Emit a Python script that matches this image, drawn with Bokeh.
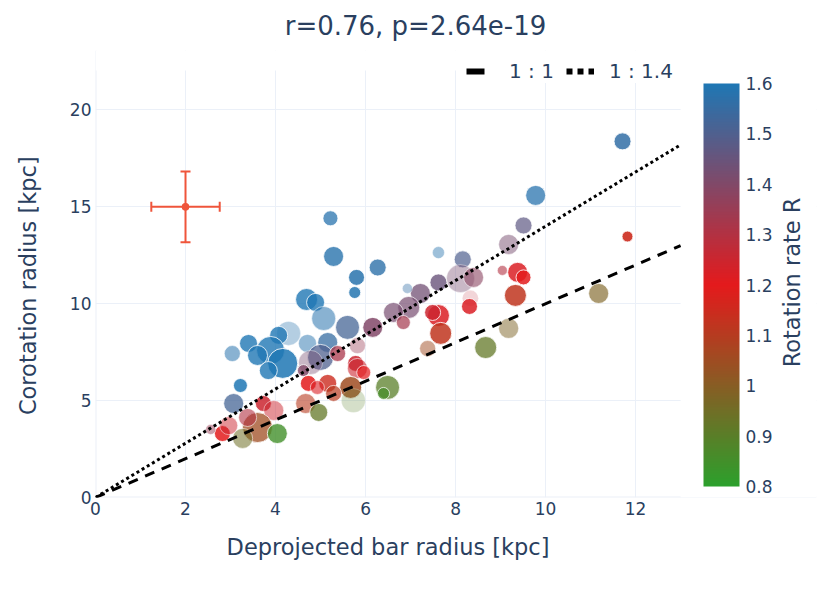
import math
from bokeh.plotting import figure
from bokeh.models import (ColumnDataSource, LinearColorMapper, ColorBar, FixedTicker, LinearAxis,
                          Span, Legend, LegendItem, Whisker, TeeHead, Range1d, BoxAnnotation, Label)
from bokeh.embed import file_html
from bokeh.resources import INLINE

# ---------------- data ----------------
bar_radius = [11.71, 9.78, 11.82, 9.51, 9.18, 5.22, 5.29, 6.27, 5.80, 5.76,
              7.62, 8.16, 8.11, 8.40, 9.04, 9.38, 9.51, 7.62, 7.22, 6.93,
              6.96, 6.62, 6.84, 8.33, 8.31, 9.33, 7.62, 7.49, 7.67, 7.38,
              9.18, 8.67, 11.18, 4.69, 4.89, 5.07, 5.60, 6.16, 4.29, 4.07,
              3.40, 3.04, 3.89, 4.16, 3.84, 3.60, 4.71, 5.16, 5.00, 4.78,
              5.38, 5.82, 5.78, 5.82, 5.96, 4.62, 4.73, 5.16, 4.93, 5.67,
              5.29, 5.73, 4.67, 4.96, 6.49, 6.40, 3.07, 3.22, 3.73, 3.96,
              3.60, 4.04, 3.27, 2.82, 2.96, 2.56, 3.38]
corot_radius = [18.38, 15.59, 13.47, 14.04, 13.06, 14.41, 12.44, 11.87, 11.36, 10.58,
                12.64, 12.29, 11.30, 11.36, 11.72, 11.62, 11.36, 11.10, 10.53, 10.79,
                9.81, 9.55, 9.03, 10.28, 9.86, 10.43, 9.39, 9.55, 8.47, 7.69,
                8.73, 7.74, 10.53, 10.22, 10.07, 9.24, 8.78, 8.78, 8.47, 8.37,
                7.95, 7.43, 7.59, 6.92, 6.55, 7.33, 7.95, 8.00, 7.23, 6.97,
                7.43, 7.84, 6.92, 6.66, 6.45, 6.55, 5.89, 5.89, 5.68, 5.68,
                5.37, 5.00, 4.85, 4.39, 5.68, 5.37, 4.85, 5.78, 4.85, 4.49,
                3.61, 3.30, 3.05, 3.30, 3.71, 3.51, 4.13]
rot_rate = [1.56, 1.58, 1.15, 1.47, 1.42, 1.58, 1.58, 1.57, 1.58, 1.59,
            1.58, 1.50, 1.42, 1.38, 1.30, 1.22, 1.20, 1.45, 1.43, 1.56,
            1.42, 1.42, 1.33, 1.28, 1.22, 1.12, 1.22, 1.25, 1.12, 1.05,
            0.98, 0.92, 0.98, 1.60, 1.60, 1.58, 1.52, 1.40, 1.58, 1.60,
            1.60, 1.58, 1.60, 1.60, 1.60, 1.60, 1.58, 1.55, 1.50, 1.42,
            1.32, 1.35, 1.25, 1.25, 1.20, 1.40, 1.20, 1.15, 1.22, 1.05,
            1.10, 0.90, 1.10, 0.92, 0.90, 0.86, 1.52, 1.60, 1.25, 1.25,
            1.05, 0.85, 0.95, 1.20, 1.25, 1.35, 1.30]
marker_size = [17, 20, 11, 17, 20, 15, 20, 17, 16, 12,
               12, 17, 28, 20, 10, 20, 15, 17, 20, 10,
               22, 20, 14, 16, 16, 22, 22, 16, 22, 16,
               20, 22, 20, 22, 18, 24, 24, 20, 24, 18,
               18, 16, 28, 30, 18, 20, 18, 20, 26, 24,
               16, 16, 16, 20, 14, 12, 16, 18, 14, 22,
               16, 24, 20, 18, 24, 12, 20, 14, 16, 20,
               30, 20, 20, 16, 18, 10, 18]
marker_opacity = [0.85, 0.75, 0.9, 0.7, 0.5, 0.75, 0.8, 0.8, 0.85, 0.85,
                  0.45, 0.7, 0.4, 0.6, 0.6, 0.85, 0.85, 0.8, 0.75, 0.4,
                  0.7, 0.7, 0.7, 0.2, 0.85, 0.85, 0.85, 0.85, 0.85, 0.5,
                  0.5, 0.75, 0.65, 0.8, 0.8, 0.55, 0.75, 0.85, 0.35, 0.8,
                  0.8, 0.55, 0.8, 0.85, 0.8, 0.8, 0.5, 0.75, 0.75, 0.4,
                  0.75, 0.4, 0.85, 0.6, 0.7, 0.8, 0.85, 0.8, 0.6, 0.85,
                  0.7, 0.25, 0.6, 0.75, 0.75, 0.75, 0.75, 0.85, 0.85, 0.5,
                  0.75, 0.8, 0.55, 0.85, 0.5, 0.5, 0.6]

ref_x = [0, 13]
ref_y_1to1 = [0, 13]
ref_y_1to14 = [0, 18.2]

err_x = [2.0]
err_y = [15.0]
err_dx = [0.76]
err_dy = [1.83]

x_ticks = [0, 2, 4, 6, 8, 10, 12]
y_ticks = [0, 5, 10, 15, 20]
cbar_ticks = [0.8, 0.9, 1.0, 1.1, 1.2, 1.3, 1.4, 1.5, 1.6]
cbar_labels = ["0.8", "0.9", "1", "1.1", "1.2", "1.3", "1.4", "1.5", "1.6"]

title_text = "r=0.76, p=2.64e-19"
x_title = "Deprojected bar radius [kpc]"
y_title = "Corotation radius [kpc]"
cbar_title = "Rotation rate R"
legend_labels = ["1 : 1", "1 : 1.4"]

# ---------------- layout / style constants ----------------
FONT = "DejaVu Sans"
TXT = "#2a3f5f"
GRID = "#EBF0F8"
ERRC = "#EF553B"
X_MAX = 13             # right edge of the visible plotting area
X_FRAME = 16.02        # frame continues right to hold the colour bar and its title
Y_MAX = 22.04          # top of the visible plotting area
Y_FRAME = 23.07        # frame extends a little higher so the legend is not clipped
TITLE_ANCHOR_X = 7.11  # horizontal centre of the title (x units)
XLABEL_ANCHOR_X = 6.5  # horizontal centre of the x-axis title (x units)
YLABEL_ANCHOR_Y = 10.93  # vertical centre of the y-axis title (y units)

green = (44, 160, 44)
red = (228, 26, 28)
blue = (31, 119, 180)


def mix(a, b, t):
    return tuple(int(round(a[i] + (b[i] - a[i]) * t)) for i in range(3))


palette = []
for i in range(256):
    t = i / 255
    c = mix(green, red, t / 0.5) if t <= 0.5 else mix(red, blue, (t - 0.5) / 0.5)
    palette.append("#%02x%02x%02x" % c)

mapper = LinearColorMapper(palette=palette, low=0.8, high=1.6)

p = figure(width=831, height=585, x_range=Range1d(0, X_FRAME), y_range=Range1d(0, Y_FRAME),
           title=None, output_backend="svg", toolbar_location=None,
           min_border_left=95, min_border_right=15, min_border_top=50, min_border_bottom=88,
           background_fill_color="white", border_fill_color="white", outline_line_color=None)
# off-screen range used only to carry the legend sample lines
p.extra_y_ranges = {"legend_only": Range1d(1000, 2000)}


def bare_axis(ax):
    ax.axis_line_color = None
    ax.major_tick_line_color = None
    ax.minor_tick_line_color = None
    ax.major_tick_out = 0
    ax.major_tick_in = 0
    ax.minor_tick_out = 0
    ax.minor_tick_in = 0
    ax.major_label_text_font = FONT
    ax.major_label_text_color = TXT
    return ax


main_x = bare_axis(p.xaxis[0])
main_y = bare_axis(p.yaxis[0])
main_x.ticker = FixedTicker(ticks=x_ticks)
main_y.ticker = FixedTicker(ticks=y_ticks)
main_x.major_label_text_font_size = "17px"
main_y.major_label_text_font_size = "17px"
main_x.major_label_standoff = 4
main_y.major_label_standoff = 4

p.xgrid.ticker = FixedTicker(ticks=x_ticks)
p.ygrid.ticker = FixedTicker(ticks=y_ticks)
p.xgrid.grid_line_color = GRID
p.ygrid.grid_line_color = GRID

p.add_layout(Span(location=0, dimension="height", line_color=GRID, line_width=2, level="underlay"))
p.add_layout(Span(location=0, dimension="width", line_color=GRID, line_width=2, level="underlay"))
# blank strips outside the visible plotting area (hide grid lines there)
p.add_layout(BoxAnnotation(bottom=Y_MAX, fill_color="white", fill_alpha=1.0,
                           line_alpha=0, level="underlay"))
p.add_layout(BoxAnnotation(left=X_MAX, fill_color="white", fill_alpha=1.0,
                           line_alpha=0, level="underlay"))

# axis titles and plot title, each a single label on a bare extra axis
x_title_axis = bare_axis(LinearAxis(ticker=FixedTicker(ticks=[XLABEL_ANCHOR_X]),
                                    major_label_overrides={XLABEL_ANCHOR_X: x_title}))
x_title_axis.major_label_text_font_size = "22.5px"
x_title_axis.major_label_standoff = 16
p.add_layout(x_title_axis, "below")

y_title_axis = bare_axis(LinearAxis(ticker=FixedTicker(ticks=[YLABEL_ANCHOR_Y]),
                                    major_label_overrides={YLABEL_ANCHOR_Y: y_title}))
y_title_axis.major_label_text_font_size = "22.5px"
y_title_axis.major_label_orientation = "vertical"
y_title_axis.major_label_standoff = 25
p.add_layout(y_title_axis, "left")

title_axis = bare_axis(LinearAxis(ticker=FixedTicker(ticks=[TITLE_ANCHOR_X]),
                                  major_label_overrides={TITLE_ANCHOR_X: title_text}))
title_axis.major_label_text_font_size = "26px"
title_axis.major_label_standoff = 10
p.add_layout(title_axis, "above")

src = ColumnDataSource(dict(bar_radius=bar_radius, corot_radius=corot_radius, rot_rate=rot_rate,
                            marker_size=marker_size, marker_opacity=marker_opacity))
p.scatter(x="bar_radius", y="corot_radius", size="marker_size", source=src,
          fill_color={"field": "rot_rate", "transform": mapper},
          line_color="white", line_width=1,
          fill_alpha="marker_opacity", line_alpha="marker_opacity")

ref_src = ColumnDataSource(dict(x=ref_x, y11=ref_y_1to1, y14=ref_y_1to14))
p.line(x="x", y="y11", source=ref_src, line_color="black", line_width=3, line_dash="10 8")
p.line(x="x", y="y14", source=ref_src, line_color="black", line_width=3, line_dash="3 3")

# error bar example
err_src = ColumnDataSource(dict(
    x=err_x, y=err_y,
    xl=[a - b for a, b in zip(err_x, err_dx)], xu=[a + b for a, b in zip(err_x, err_dx)],
    yl=[a - b for a, b in zip(err_y, err_dy)], yu=[a + b for a, b in zip(err_y, err_dy)]))
p.add_layout(Whisker(base="x", lower="yl", upper="yu", dimension="height", source=err_src,
                     line_color=ERRC, line_width=2, level="glyph",
                     upper_head=TeeHead(size=10, line_color=ERRC, line_width=2),
                     lower_head=TeeHead(size=10, line_color=ERRC, line_width=2)))
p.add_layout(Whisker(base="y", lower="xl", upper="xu", dimension="width", source=err_src,
                     line_color=ERRC, line_width=2, level="glyph",
                     upper_head=TeeHead(size=10, line_color=ERRC, line_width=2),
                     lower_head=TeeHead(size=10, line_color=ERRC, line_width=2)))
p.scatter(x="x", y="y", source=err_src, size=7, fill_color=ERRC, line_color=ERRC)

# legend: thick copies of the reference lines on an off-screen range (legend samples only)
leg1 = p.line(x="x", y="y11", source=ref_src, y_range_name="legend_only",
              line_color="black", line_width=6, line_dash="18 20")
leg2 = p.line(x="x", y="y14", source=ref_src, y_range_name="legend_only",
              line_color="black", line_width=6, line_dash="6 5")
legend = Legend(items=[LegendItem(label=legend_labels[0], renderers=[leg1]),
                       LegendItem(label=legend_labels[1], renderers=[leg2])],
                orientation="horizontal", location=(371, 414),
                glyph_width=28, glyph_height=20, label_standoff=15, spacing=12,
                padding=9, margin=0, border_line_color=None,
                background_fill_color="white", background_fill_alpha=1.0,
                label_text_font=FONT, label_text_font_size="20px", label_text_color=TXT)
p.add_layout(legend, "center")

# colour bar and its title
cbar = ColorBar(color_mapper=mapper, location=(608, 11), width=36, height=403,
                padding=0, margin=0, ticker=FixedTicker(ticks=cbar_ticks),
                major_label_overrides={t: l for t, l in zip(cbar_ticks, cbar_labels)},
                label_standoff=6, major_label_text_font=FONT, major_label_text_font_size="17px",
                major_label_text_color=TXT, major_tick_line_color=None, minor_tick_line_color=None,
                bar_line_color=None, border_line_color=None, background_fill_alpha=0)
p.add_layout(cbar, "center")

p.add_layout(Label(x=696, y=215, x_units="screen", y_units="screen", text=cbar_title,
                   angle=math.pi / 2, text_align="center", text_baseline="middle",
                   text_font=FONT, text_font_size="22.5px", text_color=TXT))

open("out.html", "w").write(file_html(p, INLINE))
